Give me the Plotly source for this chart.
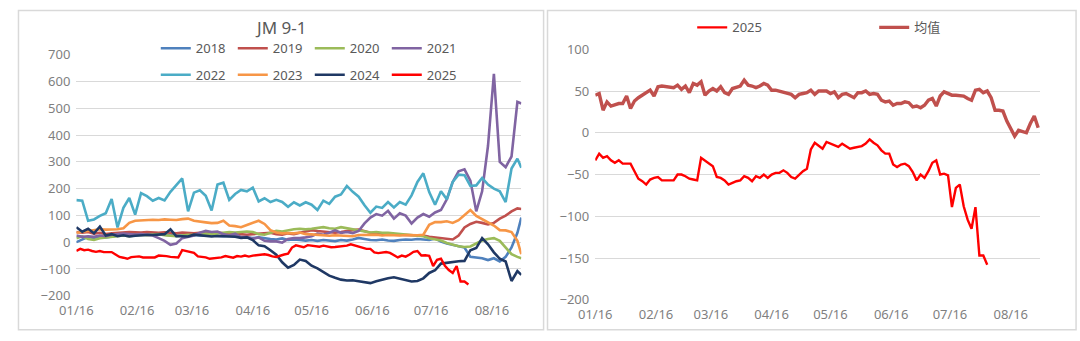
import plotly.graph_objects as go

YEAR = "2025"

# 3-day sampling dates for the historical years (left chart)
DATES_3D = [
    "01-16", "01-19", "01-22", "01-25", "01-28", "01-31", "02-03", "02-06", "02-09", "02-12",
    "02-15", "02-18", "02-21", "02-24", "02-27", "03-02", "03-05", "03-08", "03-11", "03-14",
    "03-17", "03-20", "03-23", "03-26", "03-29", "04-01", "04-04", "04-07", "04-10", "04-13",
    "04-16", "04-19", "04-22", "04-25", "04-28", "05-01", "05-04", "05-07", "05-10", "05-13",
    "05-16", "05-19", "05-22", "05-25", "05-28", "05-31", "06-03", "06-06", "06-09", "06-12",
    "06-15", "06-18", "06-21", "06-24", "06-27", "06-30", "07-03", "07-06", "07-09", "07-12",
    "07-15", "07-18", "07-21", "07-24", "07-27", "07-30", "08-02", "08-05", "08-08", "08-11",
    "08-14", "08-17", "08-20", "08-23", "08-26", "08-29", "08-31",
]

# 2-day sampling dates for 2025 and the average
DATES_2D = [
    "01-16", "01-18", "01-20", "01-22", "01-24", "01-26", "01-28", "01-30", "02-01", "02-03",
    "02-05", "02-07", "02-09", "02-11", "02-13", "02-15", "02-17", "02-19", "02-21", "02-23",
    "02-25", "02-27", "03-01", "03-03", "03-05", "03-07", "03-09", "03-11", "03-13", "03-15",
    "03-17", "03-19", "03-21", "03-23", "03-25", "03-27", "03-29", "03-31", "04-02", "04-04",
    "04-06", "04-08", "04-10", "04-12", "04-14", "04-16", "04-18", "04-20", "04-22", "04-24",
    "04-26", "04-28", "04-30", "05-02", "05-04", "05-06", "05-08", "05-10", "05-12", "05-14",
    "05-16", "05-18", "05-20", "05-22", "05-24", "05-26", "05-28", "05-30", "06-01", "06-03",
    "06-05", "06-07", "06-09", "06-11", "06-13", "06-15", "06-17", "06-19", "06-21", "06-23",
    "06-25", "06-27", "06-29", "07-01", "07-03", "07-05", "07-07", "07-09", "07-11", "07-13",
    "07-15", "07-17", "07-19", "07-21", "07-23", "07-25", "07-27", "07-29", "07-31", "08-02",
    "08-04", "08-06", "08-08", "08-10", "08-12", "08-14", "08-16", "08-18", "08-20", "08-22",
    "08-24", "08-26", "08-28", "08-30",
]

S2018 = [0, 10, 20, 15, 20, 18, 22, 25, 28, 30,
         30, 32, 30, 28, 30, 28, 25, 28, 25, 28,
         26, 25, 24, 26, 24, 22, 24, 22, 20, 18,
         15, 18, 14, 12, 10, 14, 8, 10, 8, 6,
         8, 5, 8, 6, 4, 8, 6, 10, 16, 12,
         8, 7, 10, 6, 5, 8, 10, 9, 12, 10,
         8, 14, 2, -5, -10, -15, -20, -55, -58, -60,
         -67, -60, -72, -55, -20, 35, 92]

S2019 = [38, 35, 38, 32, 35, 30, 33, 35, 36, 38,
         37, 36, 38, 36, 35, 37, 35, 33, 36, 35,
         33, 35, 36, 34, 36, 33, 30, 32, 30, 28,
         30, 32, 33, 35, 30, 28, 33, 30, 35, 40,
         45, 42, 40, 38, 35, 38, 42, 45, 47, 40,
         35, 33, 30, 29, 28, 27, 26, 27, 26, 25,
         20, 18, 15, 12, 10, 25, 55, 68, 76, 72,
         66, 72, 88, 99, 115, 126, 124]

S2020 = [15, 22, 12, 8, 15, 18, 20, 22, 25, 22,
         25, 28, 26, 28, 30, 26, 25, 22, 25, 28,
         27, 30, 32, 30, 33, 35, 38, 36, 38, 40,
         38, 30, 28, 35, 42, 40, 45, 48, 50, 48,
         50, 52, 56, 52, 50, 56, 52, 50, 44, 42,
         36, 38, 35, 35, 33, 32, 29, 27, 25, 22,
         15, 10, 6, -3, -10, -15, -18, -16, -5, 6,
         12, 15, 5, -18, -45, -55, -60]

S2021 = [25, 20, 22, 20, 25, 22, 28, 30, 32, 30,
         28, 30, 28, 25, 15, 5, -10, -5, 15, 20,
         25, 35, 42, 38, 40, 30, 25, 32, 18, 20,
         12, 18, 5, 3, 3, -2, 12, 15, 15, 18,
         22, 32, 28, 35, 44, 35, 38, 34, 42, 70,
         92, 105, 99, 117, 88, 108, 99, 70, 92, 105,
         95, 111, 120, 160, 225, 265, 272, 230, 115, 190,
         360, 629, 300, 280, 320, 524, 518]

S2022 = [157, 155, 80, 85, 98, 108, 161, 55, 128, 165,
         103, 183, 172, 155, 165, 156, 188, 212, 238, 115,
         185, 194, 173, 118, 215, 222, 158, 180, 195, 190,
         204, 152, 164, 150, 158, 150, 132, 149, 137, 149,
         140, 120, 155, 143, 170, 178, 210, 188, 170, 138,
         110, 133, 128, 150, 130, 150, 140, 175, 225, 257,
         187, 140, 190, 160, 225, 252, 250, 210, 212, 240,
         215, 200, 190, 150, 275, 312, 278]

S2023 = [35, 38, 42, 44, 48, 47, 47, 48, 52, 72,
         80, 82, 82, 84, 83, 85, 84, 83, 86, 88,
         80, 76, 74, 71, 72, 80, 62, 60, 56, 64,
         72, 80, 68, 45, 36, 33, 34, 33, 36, 30,
         29, 27, 26, 24, 26, 25, 23, 22, 27, 28,
         28, 28, 25, 27, 26, 25, 27, 26, 26, 28,
         65, 75, 75, 78, 72, 82, 100, 120, 98, 85,
         72, 62, 45, 44, 38, 5, -45]

S2024 = [56, 39, 50, 33, 58, 25, 30, 22, 26, 21,
         24, 26, 27, 27, 29, 30, 48, 22, 22, 21,
         28, 25, 22, 21, 23, 23, 21, 20, 16, 18,
         8, -12, -15, -30, -47, -75, -95, -85, -65, -70,
         -88, -98, -110, -125, -133, -140, -143, -142, -146, -149,
         -153, -146, -140, -135, -131, -136, -141, -147, -145, -135,
         -115, -105, -80, -77, -72, -71, -70, -30, -22, 15,
         -8, -38, -62, -72, -145, -108, -122]

S2025 = [-33, -25, -30, -28, -33, -36, -33, -37, -37, -37,
         -46, -55, -58, -62, -56, -54, -53, -57, -57, -57,
         -57, -50, -50, -52, -55, -56, -57, -30, -33, -36,
         -40, -53, -54, -57, -62, -60, -58, -57, -52, -54,
         -58, -52, -54, -50, -54, -50, -48, -48, -45, -48,
         -53, -55, -50, -46, -43, -20, -12, -15, -19, -11,
         -13, -15, -17, -13, -16, -19, -18, -17, -16, -13,
         -8, -12, -15, -21, -25, -25, -38, -41, -38, -37,
         -40, -47, -57, -50, -54, -46, -36, -33, -50, -49,
         -51, -89, -66, -62, -88, -104, -115, -89, -147, -147,
         -158]

AVG = [45, 47, 27, 37, 32, 34, 35, 35, 44, 29,
       38, 42, 45, 48, 51, 44, 55, 56, 55, 54,
       54, 57, 52, 56, 48, 59, 57, 61, 45, 50,
       53, 50, 55, 48, 46, 53, 55, 56, 63, 57,
       56, 54, 56, 59, 57, 51, 51, 50, 48, 47,
       46, 42, 46, 47, 48, 51, 46, 50, 50, 50,
       47, 49, 42, 46, 47, 45, 42, 48, 48, 50,
       46, 47, 46, 39, 37, 38, 33, 35, 35, 37,
       36, 31, 32, 30, 33, 39, 41, 32, 44, 49,
       47, 45, 45, 45, 44, 41, 39, 51, 52, 48,
       50, 42, 27, 27, 26, 14, 6, -4, 3, 1,
       0, 11, 20, 6]

TICK_DATES = ["01-16", "02-16", "03-16", "04-16", "05-16", "06-16", "07-16", "08-16"]
TICK_LABELS = ["01/16", "02/16", "03/16", "04/16", "05/16", "06/16", "07/16", "08/16"]
AXIS_START, AXIS_END = "01-16", "08-31"

FONT = "Noto Sans, Noto Sans CJK SC, sans-serif"
GRID = "#D9D9D9"
LABEL = "#7F7F7F"


def full(dates):
    return [f"{YEAR}-{d}" for d in dates]


fig = go.Figure()

left_series = [
    ("2018", S2018, "#4F81BD", "legend"),
    ("2019", S2019, "#C0504D", "legend"),
    ("2020", S2020, "#9BBB59", "legend"),
    ("2021", S2021, "#8064A2", "legend"),
    ("2022", S2022, "#4BACC6", "legend2"),
    ("2023", S2023, "#F79646", "legend2"),
    ("2024", S2024, "#1F3864", "legend2"),
]
for name, vals, col, lg in left_series:
    fig.add_trace(go.Scatter(
        x=full(DATES_3D[:len(vals)]), y=vals, name=name, mode="lines",
        line=dict(color=col, width=2.6), xaxis="x", yaxis="y", legend=lg))

fig.add_trace(go.Scatter(
    x=full(DATES_2D[:len(S2025)]), y=S2025, name="2025", mode="lines",
    line=dict(color="#FF0000", width=2.4), xaxis="x", yaxis="y", legend="legend2"))

# right chart
fig.add_trace(go.Scatter(
    x=full(DATES_2D[:len(S2025)]), y=S2025, name="2025", mode="lines",
    line=dict(color="#FF0000", width=2.4), xaxis="x2", yaxis="y2", legend="legend3"))
fig.add_trace(go.Scatter(
    x=full(DATES_2D[:len(AVG)]), y=AVG, name="均值", mode="lines",
    line=dict(color="#C0504D", width=3.4), xaxis="x2", yaxis="y2", legend="legend3"))

xrange = [f"{YEAR}-{AXIS_START}", f"{YEAR}-{AXIS_END}"]
tickvals = full(TICK_DATES)

W, H = 1080, 341
LX0, LX1 = 60.3, 512.4
RX0, RX1 = 587.5, 1039.5
LY_TOP, LY_BOT = 48.3, 302.7
RY_TOP, RY_BOT = 42.5, 307.0

common_x = dict(type="date", range=xrange, tickmode="array", tickvals=tickvals,
                ticktext=TICK_LABELS, showgrid=False, zeroline=False, showline=False,
                ticks="", ticklabelstandoff=5,
                tickfont=dict(family=FONT, size=13, color=LABEL))
common_y = dict(showgrid=True, gridcolor=GRID, gridwidth=1, zeroline=False, showline=False,
                ticks="", tickfont=dict(family=FONT, size=13, color=LABEL), ticklabelstandoff=5)
zero_axis = dict(type="date", range=xrange, tickmode="array",
                 tickvals=tickvals + [f"{YEAR}-{AXIS_END}"], showticklabels=False,
                 showgrid=False, zeroline=False, showline=True, linecolor="#BFBFBF",
                 linewidth=1, ticks="outside", ticklen=4, tickcolor="#BFBFBF",
                 layer="below traces", anchor="free")

legend_font = dict(family=FONT, size=13, color="#595959")

fig.update_layout(
    width=W, height=H, autosize=False,
    margin=dict(l=0, r=0, t=0, b=0),
    paper_bgcolor="white", plot_bgcolor="white",
    font=dict(family=FONT, color=LABEL),
    xaxis=dict(domain=[LX0 / W, LX1 / W], anchor="y", **common_x),
    yaxis=dict(domain=[1 - LY_BOT / H, 1 - LY_TOP / H], anchor="x",
               range=[-200, 700], dtick=100, tick0=0, **common_y),
    xaxis2=dict(domain=[RX0 / W, RX1 / W], anchor="y2", **common_x),
    yaxis2=dict(domain=[1 - RY_BOT / H, 1 - RY_TOP / H], anchor="x2",
                range=[-200, 100], dtick=50, tick0=0, **common_y),
    xaxis3=dict(overlaying="x", position=1 - 246.2 / H, **zero_axis),
    xaxis4=dict(overlaying="x2", position=1 - 130.7 / H, **zero_axis),
    legend=dict(orientation="h", x=141 / W, y=1 - 41.5 / H, xanchor="left", yanchor="middle",
                bgcolor="rgba(0,0,0,0)", font=legend_font,
                entrywidth=32, entrywidthmode="pixels", traceorder="normal"),
    legend2=dict(orientation="h", x=141 / W, y=1 - 69.5 / H, xanchor="left", yanchor="middle",
                 bgcolor="rgba(0,0,0,0)", font=legend_font,
                 entrywidth=32, entrywidthmode="pixels", traceorder="normal"),
    legend3=dict(orientation="h", x=686 / W, y=1 - 19.5 / H, xanchor="left", yanchor="middle",
                 bgcolor="rgba(0,0,0,0)", font=legend_font,
                 entrywidth=137, entrywidthmode="pixels", traceorder="normal"),
    showlegend=True,
    annotations=[dict(text="JM 9-1", x=268 / W, y=1 - 20 / H, xref="paper", yref="paper",
                      showarrow=False, xanchor="center", yanchor="middle",
                      font=dict(family=FONT, size=17, color="#595959"))],
    shapes=[
        dict(type="rect", xref="paper", yref="paper", x0=1.5 / W, x1=535 / W,
             y0=1 - 338.5 / H, y1=1 - 1.5 / H, line=dict(color=GRID, width=1.5), layer="below"),
        dict(type="rect", xref="paper", yref="paper", x0=539 / W, x1=1076 / W,
             y0=1 - 338.5 / H, y1=1 - 1.5 / H, line=dict(color=GRID, width=1.5), layer="below"),
    ],
)

fig.write_html("out.html")
